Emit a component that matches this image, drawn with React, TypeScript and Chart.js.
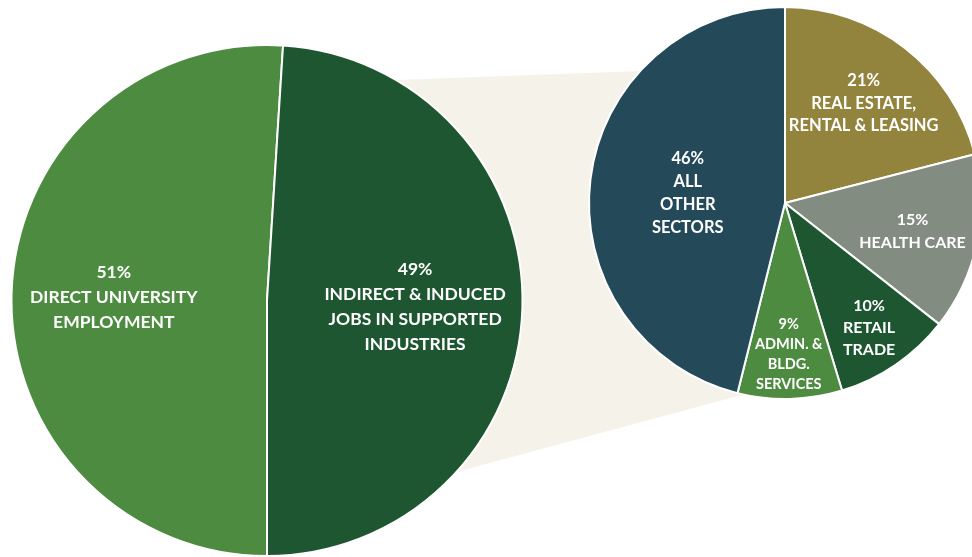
import { useEffect, useRef } from "react";
import { Chart, registerables } from "chart.js";

Chart.register(...registerables);

// ---- data ----
const mainCategories = [
  "DIRECT UNIVERSITY EMPLOYMENT",
  "INDIRECT & INDUCED JOBS IN SUPPORTED INDUSTRIES",
];
const mainLabelLines = [
  ["DIRECT UNIVERSITY", "EMPLOYMENT"],
  ["INDIRECT & INDUCED", "JOBS IN SUPPORTED", "INDUSTRIES"],
];
const mainValues = [51, 49];
const mainColors = ["#4D8B40", "#1D5630"];

const sectorCategories = [
  "REAL ESTATE, RENTAL & LEASING",
  "HEALTH CARE",
  "RETAIL TRADE",
  "ADMIN. & BLDG. SERVICES",
  "ALL OTHER SECTORS",
];
const sectorLabelLines = [
  ["REAL ESTATE,", "RENTAL & LEASING"],
  ["HEALTH CARE"],
  ["RETAIL", "TRADE"],
  ["ADMIN. &", "BLDG.", "SERVICES"],
  ["ALL", "OTHER", "SECTORS"],
];
const sectorValues = [21, 14.6, 9.7, 8.6, 46.1];
const sectorColors = ["#92843C", "#828C80", "#1D5630", "#4D8B40", "#244A5A"];

// ---- label styling (radial fraction, font size, line height) ----
const mainLabelStyle = [
  { f: 0.6, size: 17.5, lh: 25 },
  { f: 0.58, size: 17.5, lh: 25 },
];
const sectorLabelStyle = [
  { f: 0.655, size: 16.5, lh: 22.5 },
  { f: 0.665, size: 16, lh: 23 },
  { f: 0.76, size: 16, lh: 22 },
  { f: 0.76, size: 14.5, lh: 20 },
  { f: 0.5, size: 16.5, lh: 23 },
];

const FONT = "Lato, 'Open Sans', sans-serif";
const RIGHT_POS = { left: 585, top: 3, size: 400 };

function labelPlugin(id: string, lines: string[][], styles: any[]) {
  return {
    id,
    afterDatasetsDraw(chart: any) {
      const meta = chart.getDatasetMeta(0);
      const ctx = chart.ctx;
      const values = chart.data.datasets[0].data as number[];
      meta.data.forEach((arc: any, i: number) => {
        const p = arc.getProps(["x", "y", "startAngle", "endAngle", "outerRadius"], true);
        const st = styles[i];
        const mid = (p.startAngle + p.endAngle) / 2;
        const cx = p.x + Math.cos(mid) * p.outerRadius * st.f;
        const cy = p.y + Math.sin(mid) * p.outerRadius * st.f + 2;
        const all = [Math.round(values[i]) + "%", ...lines[i]];
        ctx.save();
        ctx.fillStyle = "#FFFFFF";
        ctx.font = `bold ${st.size}px ${FONT}`;
        ctx.textAlign = "center";
        ctx.textBaseline = "middle";
        const n = all.length;
        all.forEach((t, k) => ctx.fillText(t, cx, cy + (k - (n - 1) / 2) * st.lh));
        ctx.restore();
      });
    },
  };
}

export default function App() {
  const leftRef = useRef<HTMLCanvasElement | null>(null);
  const rightRef = useRef<HTMLCanvasElement | null>(null);

  useEffect(() => {
    if (!leftRef.current || !rightRef.current) return;

    const right = new Chart(rightRef.current, {
      type: "pie",
      data: {
        labels: sectorCategories,
        datasets: [
          {
            data: sectorValues,
            backgroundColor: sectorColors,
            borderColor: "#FFFFFF",
            borderWidth: 2,
          },
        ],
      },
      options: {
        animation: false,
        responsive: false,
        maintainAspectRatio: false,
        layout: { padding: 3 },
        plugins: { legend: { display: false }, tooltip: { enabled: false } },
      },
      plugins: [labelPlugin("sectorLabels", sectorLabelLines, sectorLabelStyle)],
    });

    const connector = {
      id: "connector",
      beforeDatasetsDraw(chart: any) {
        const a = chart.getDatasetMeta(0).data[0];
        const b = right.getDatasetMeta(0).data[0] as any;
        if (!a || !b) return;
        const bx = b.x + RIGHT_POS.left;
        const by = b.y + RIGHT_POS.top;
        const pt = (cx: number, cy: number, r: number, deg: number) => {
          const t = (deg * Math.PI) / 180;
          return [cx + r * Math.sin(t), cy - r * Math.cos(t)];
        };
        const pts = [
          pt(a.x, a.y, a.outerRadius, 30.3),
          pt(bx, by, b.outerRadius, 312.3),
          [bx, by],
          pt(bx, by, b.outerRadius, 192.2),
          pt(a.x, a.y, a.outerRadius, 132.2),
          [a.x, a.y],
        ];
        const ctx = chart.ctx;
        ctx.save();
        ctx.fillStyle = "#F5F3E9";
        ctx.beginPath();
        pts.forEach((q, i) => (i === 0 ? ctx.moveTo(q[0], q[1]) : ctx.lineTo(q[0], q[1])));
        ctx.closePath();
        ctx.fill();
        ctx.restore();
      },
    };

    const left = new Chart(leftRef.current, {
      type: "pie",
      data: {
        labels: mainCategories,
        datasets: [
          {
            data: mainValues,
            backgroundColor: mainColors,
            borderColor: "#FFFFFF",
            borderWidth: 2,
          },
        ],
      },
      options: {
        animation: false,
        responsive: false,
        maintainAspectRatio: false,
        rotation: 180,
        layout: { padding: { left: 10, right: 448, top: 44, bottom: 0 } },
        plugins: { legend: { display: false }, tooltip: { enabled: false } },
      },
      plugins: [connector, labelPlugin("mainLabels", mainLabelLines, mainLabelStyle)],
    });

    const fonts: any = (document as any).fonts;
    if (fonts && fonts.load) {
      fonts.load(`bold 18px Lato`).then(() => {
        right.draw();
        left.draw();
      });
    }

    return () => {
      left.destroy();
      right.destroy();
    };
  }, []);

  return (
    <div
      style={{
        position: "fixed",
        left: 0,
        top: 0,
        width: 972,
        height: 557,
        overflow: "hidden",
        background: "#FFFFFF",
      }}
    >
      <canvas
        ref={leftRef}
        width={972}
        height={557}
        style={{ position: "absolute", left: 0, top: 0, width: 972, height: 557 }}
      />
      <canvas
        ref={rightRef}
        width={RIGHT_POS.size}
        height={RIGHT_POS.size}
        style={{
          position: "absolute",
          left: RIGHT_POS.left,
          top: RIGHT_POS.top,
          width: RIGHT_POS.size,
          height: RIGHT_POS.size,
        }}
      />
    </div>
  );
}
